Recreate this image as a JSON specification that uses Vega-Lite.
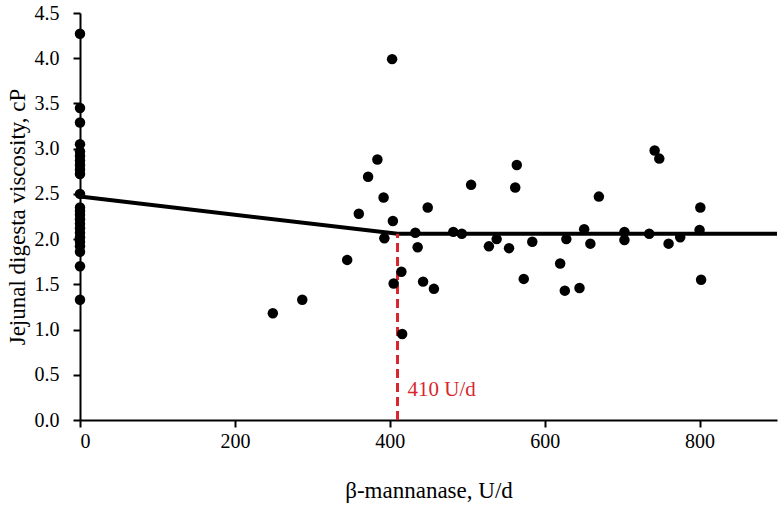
{
  "$schema": "https://vega.github.io/schema/vega-lite/v6.json",
  "width": 697,
  "height": 407,
  "autosize": {"type": "none"},
  "padding": {"left": 80, "top": 13, "right": 7, "bottom": 93},
  "background": "white",
  "config": {
    "view": {"stroke": null},
    "font": "Liberation Serif",
    "axis": {
      "grid": false,
      "domainColor": "black",
      "domainWidth": 2,
      "tickColor": "black",
      "tickWidth": 2,
      "tickSize": 7,
      "labelFont": "Liberation Serif",
      "labelFontSize": 20,
      "labelColor": "black",
      "titleFont": "Liberation Serif",
      "titleFontSize": 23,
      "titleFontWeight": "normal",
      "titleColor": "black"
    }
  },
  "datasets": {
    "pts": [
      {"x": 0, "y": 4.27}, {"x": 0, "y": 3.45}, {"x": 0, "y": 3.29}, {"x": 0, "y": 3.05},
      {"x": 0, "y": 2.97}, {"x": 0, "y": 2.92}, {"x": 0, "y": 2.87}, {"x": 0, "y": 2.82},
      {"x": 0, "y": 2.77}, {"x": 0, "y": 2.72}, {"x": 0, "y": 2.5}, {"x": 0, "y": 2.35},
      {"x": 0, "y": 2.31}, {"x": 0, "y": 2.27}, {"x": 0, "y": 2.22}, {"x": 0, "y": 2.17},
      {"x": 0, "y": 2.12}, {"x": 0, "y": 2.07}, {"x": 0, "y": 2.02}, {"x": 0, "y": 1.97},
      {"x": 0, "y": 1.92}, {"x": 0, "y": 1.86}, {"x": 0, "y": 1.7}, {"x": 0, "y": 1.33},
      {"x": 249, "y": 1.18}, {"x": 287, "y": 1.33}, {"x": 345, "y": 1.77}, {"x": 360, "y": 2.28},
      {"x": 372, "y": 2.69}, {"x": 384, "y": 2.88}, {"x": 392, "y": 2.46}, {"x": 393, "y": 2.01},
      {"x": 403, "y": 3.99}, {"x": 404, "y": 2.2}, {"x": 405, "y": 1.51}, {"x": 415, "y": 1.64},
      {"x": 416, "y": 0.95}, {"x": 433, "y": 2.07}, {"x": 436, "y": 1.91}, {"x": 443, "y": 1.53},
      {"x": 449, "y": 2.35}, {"x": 457, "y": 1.45}, {"x": 482, "y": 2.08}, {"x": 493, "y": 2.06},
      {"x": 505, "y": 2.6}, {"x": 528, "y": 1.92}, {"x": 538, "y": 2.0}, {"x": 554, "y": 1.9},
      {"x": 562, "y": 2.57}, {"x": 564, "y": 2.82}, {"x": 573, "y": 1.56}, {"x": 584, "y": 1.97},
      {"x": 620, "y": 1.73}, {"x": 626, "y": 1.43}, {"x": 628, "y": 2.0}, {"x": 645, "y": 1.46},
      {"x": 651, "y": 2.11}, {"x": 659, "y": 1.95}, {"x": 670, "y": 2.47}, {"x": 703, "y": 2.08},
      {"x": 703, "y": 1.99}, {"x": 735, "y": 2.06}, {"x": 742, "y": 2.98}, {"x": 748, "y": 2.89},
      {"x": 760, "y": 1.95}, {"x": 775, "y": 2.02}, {"x": 801, "y": 2.35}, {"x": 800, "y": 2.1},
      {"x": 802, "y": 1.55}
    ],
    "fit": [
      {"x": 0, "y": 2.47}, {"x": 410, "y": 2.06}, {"x": 900, "y": 2.06}
    ],
    "bp": [
      {"x": 410, "y": 0, "y2": 2.06, "label": "410 U/d", "ly": 0.33}
    ]
  },
  "layer": [
    {
      "data": {"name": "fit"},
      "mark": {"type": "line", "color": "black", "strokeWidth": 4},
      "encoding": {
        "x": {
          "field": "x", "type": "quantitative",
          "scale": {"domain": [0, 900], "nice": false},
          "axis": {"values": [0, 200, 400, 600, 800], "title": "β-mannanase, U/d", "labelPadding": 4, "titlePadding": 28}
        },
        "y": {
          "field": "y", "type": "quantitative",
          "scale": {"domain": [0, 4.5], "nice": false},
          "axis": {"values": [0, 0.5, 1, 1.5, 2, 2.5, 3, 3.5, 4, 4.5], "format": ".1f", "title": "Jejunal digesta viscosity, cP", "labelPadding": 14, "titlePadding": 5}
        }
      }
    },
    {
      "data": {"name": "bp"},
      "mark": {"type": "rule", "color": "#d7262e", "strokeWidth": 3, "strokeDash": [9, 5]},
      "encoding": {
        "x": {"field": "x", "type": "quantitative"},
        "y": {"field": "y", "type": "quantitative"},
        "y2": {"field": "y2"}
      }
    },
    {
      "data": {"name": "bp"},
      "mark": {"type": "text", "color": "#d7262e", "fontSize": 21, "align": "left", "baseline": "middle", "dx": 10, "font": "Liberation Serif"},
      "encoding": {
        "x": {"field": "x", "type": "quantitative"},
        "y": {"field": "ly", "type": "quantitative"},
        "text": {"field": "label"}
      }
    },
    {
      "data": {"name": "pts"},
      "mark": {"type": "circle", "color": "black", "opacity": 1, "size": 110},
      "encoding": {
        "x": {"field": "x", "type": "quantitative"},
        "y": {"field": "y", "type": "quantitative"}
      }
    }
  ]
}
